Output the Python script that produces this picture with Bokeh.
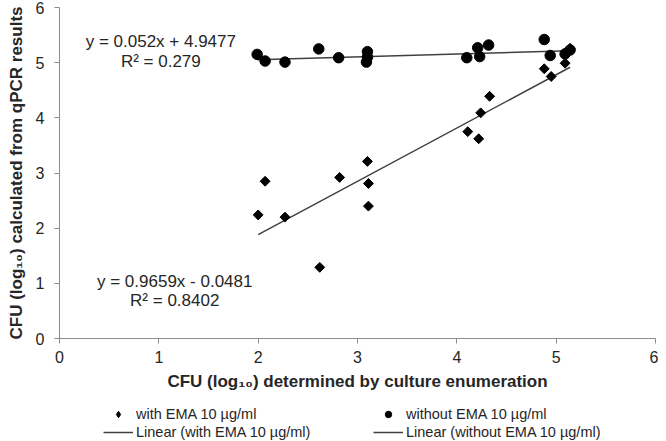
import numpy as np
from bokeh.plotting import figure
from bokeh.layouts import column
from bokeh.models import Legend, LegendItem, Label, Range1d, FixedTicker
from bokeh.embed import file_html
from bokeh.resources import INLINE

# ---- data ----
with_x = [2.00, 2.07, 2.27, 2.62, 2.82, 3.10, 3.11, 3.11, 4.11, 4.22, 4.24, 4.33, 4.88, 4.95, 5.09, 5.14]
with_y = [2.24, 2.85, 2.20, 1.29, 2.92, 3.21, 2.81, 2.40, 3.75, 3.62, 4.09, 4.39, 4.89, 4.75, 4.99, 5.26]
without_x = [1.99, 2.07, 2.27, 2.61, 2.81, 3.10, 3.09, 3.10, 4.10, 4.21, 4.23, 4.32, 4.88, 4.94, 5.09, 5.14]
without_y = [5.15, 5.03, 5.01, 5.25, 5.09, 5.20, 5.01, 5.10, 5.09, 5.27, 5.11, 5.32, 5.42, 5.13, 5.16, 5.23]

fit_with = [0.9659, -0.0481]      # slope, intercept
fit_without = [0.052, 4.9477]
eq_with = ["y = 0.9659x - 0.0481", "R² = 0.8402"]
eq_without = ["y = 0.052x + 4.9477", "R² = 0.279"]

ticks = [0, 1, 2, 3, 4, 5, 6]
x_title = "CFU (log₁₀) determined by culture enumeration"
y_title = "CFU (log₁₀) calculated from qPCR results"
legend_labels = ["with EMA 10 µg/ml", "without EMA 10 µg/ml",
                 "Linear (with EMA 10 µg/ml)", "Linear (without EMA 10 µg/ml)"]

FONT = "Liberation Sans"
AXIS_C = "#8c8c8c"
TXT_C = "#262626"
LINE_C = "#404040"

p = figure(width=658, height=395, x_range=Range1d(0, 6), y_range=Range1d(0, 6),
           output_backend="svg", toolbar_location=None,
           min_border_left=59, min_border_right=3, min_border_top=7, min_border_bottom=57)
p.outline_line_color = None
p.grid.visible = False
p.background_fill_color = "white"

for ax in (p.xaxis[0], p.yaxis[0]):
    ax.ticker = FixedTicker(ticks=ticks)
    ax.minor_tick_line_color = None
    ax.axis_line_color = AXIS_C
    ax.major_tick_line_color = AXIS_C
    ax.major_tick_in = 0
    ax.major_tick_out = 5
    ax.major_label_text_font = FONT
    ax.major_label_text_font_size = "16px"
    ax.major_label_text_color = TXT_C
    ax.axis_label_text_font = FONT
    ax.axis_label_text_font_size = "17px"
    ax.axis_label_text_font_style = "bold"
    ax.axis_label_text_color = TXT_C

p.xaxis.axis_label = x_title
p.yaxis.axis_label = y_title
p.yaxis.major_label_standoff = 10
p.yaxis.axis_label_standoff = 7
p.xaxis.major_label_standoff = 7
p.xaxis.axis_label_standoff = 6

# trend lines from the fitted equations
def trend(xs, fit):
    lx = np.array([min(xs), max(xs)])
    return lx, fit[0] * lx + fit[1]

lx1, ly1 = trend(with_x, fit_with)
lx2, ly2 = trend(without_x, fit_without)
p.line(lx1, ly1, line_color=LINE_C, line_width=1.5)
p.line(lx2, ly2, line_color=LINE_C, line_width=1.5)

p.scatter(with_x, with_y, marker="square", angle=np.pi / 4, size=7,
          fill_color="black", line_color="black")
p.scatter(without_x, without_y, marker="circle", size=10.5,
          fill_color="black", line_color="black")

for lab in [Label(x=1.02, y=5.39, text=eq_without[0]), Label(x=1.02, y=5.03, text=eq_without[1]),
            Label(x=1.16, y=1.03, text=eq_with[0]), Label(x=1.16, y=0.68, text=eq_with[1])]:
    lab.text_align = "center"
    lab.text_baseline = "middle"
    lab.text_font = FONT
    lab.text_font_size = "17px"
    lab.text_color = TXT_C
    p.add_layout(lab)

# ---- legend strip below the chart (series drawn out of view, only the legend shows) ----
lf = figure(width=658, height=45, x_range=Range1d(0, 6), y_range=Range1d(10, 11),
            output_backend="svg", toolbar_location=None,
            x_axis_location=None, y_axis_location=None,
            min_border_left=0, min_border_right=0, min_border_top=0, min_border_bottom=0)
lf.outline_line_color = None
lf.grid.visible = False
lg_with = lf.scatter(with_x, with_y, marker="diamond", size=9, fill_color="black", line_color="black")
lg_without = lf.scatter(without_x, without_y, marker="circle", size=7.5, fill_color="black", line_color="black")
lg_l1 = lf.line(lx1, ly1, line_color=LINE_C, line_width=1.5)
lg_l2 = lf.line(lx2, ly2, line_color=LINE_C, line_width=1.5)

leg_style = dict(orientation="horizontal",
                 border_line_color=None, background_fill_alpha=0,
                 label_text_font=FONT, label_text_font_size="14.5px", label_text_color=TXT_C,
                 glyph_width=30, glyph_height=16, label_height=16, label_width=197,
                 label_standoff=3, spacing=40, padding=0, margin=0)
legend1 = Legend(items=[LegendItem(label=legend_labels[0], renderers=[lg_with]),
                        LegendItem(label=legend_labels[1], renderers=[lg_without])],
                 location=(44, 18), **leg_style)
legend2 = Legend(items=[LegendItem(label=legend_labels[2], renderers=[lg_l1]),
                        LegendItem(label=legend_labels[3], renderers=[lg_l2])],
                 location=(44, 0), **leg_style)
lf.add_layout(legend1, "center")
lf.add_layout(legend2, "center")

layout = column(p, lf, spacing=0)
open("out.html", "w").write(file_html(layout, INLINE))
